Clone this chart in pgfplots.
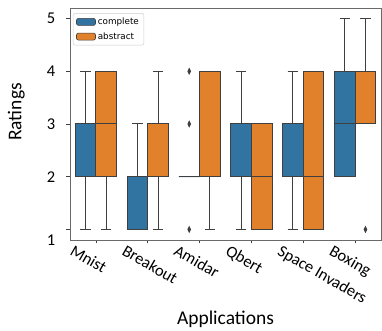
\documentclass[border=0pt]{standalone}
\usepackage{fontspec}
\setmainfont{Carlito}
\newfontfamily\dejavu{DejaVu Sans}
\usepackage{pgfplots}
\usepgfplotslibrary{statistics}
\pgfplotsset{compat=1.18}
\definecolor{cblue}{HTML}{3274A1}
\definecolor{corange}{HTML}{E1812C}
\definecolor{cedge}{HTML}{3F3F3F}
\definecolor{cspine}{HTML}{6A6A6A}
\pgfplotsset{
  sbox/.style={draw=cedge, line width=1pt, solid, mark=diamond*,
    mark size=2.6pt, mark options={fill=cedge, draw=cedge, xscale=0.65, solid}},
}
\begin{document}
\begin{tikzpicture}
\begin{axis}[
  scale only axis, width=311pt, height=232pt,
  xmin=-0.5, xmax=5.5, ymin=0.8, ymax=5.2,
  xtick={0,1,2,3,4,5},
  xticklabels={Mnist,Breakout,Amidar,Qbert,Space Invaders,Boxing},
  ytick={1,2,3,4,5},
  yticklabels={\raisebox{-11pt}[\height][\depth]{1},2,3,4,5},
  tick align=outside, tick pos=left, major tick length=3.5pt,
  every tick/.style={cedge, line width=0.8pt},
  axis line style={cspine, line width=0.8pt},
  ticklabel style={font=\fontsize{16.5}{18}\selectfont},
  x tick label style={rotate=-30, anchor=north west, inner sep=0pt, xshift=-18pt, yshift=-11pt},
  y tick label style={anchor=east, inner sep=0pt, xshift=-11pt},
  xlabel={Applications}, ylabel={Ratings},
  label style={font=\fontsize{19.5}{22}\selectfont, inner sep=0pt},
  xlabel style={at={(axis description cs:0.5,0)}, anchor=north, yshift=-71pt},
  ylabel style={at={(axis description cs:-0.1447,0.552)}, anchor=south},
  legend style={at={(axis description cs:0.0096,0.978)}, anchor=north west,
    draw=black!20, rounded corners=2pt, fill=white,
    font=\dejavu\fontsize{8.8}{10}\selectfont, row sep=2.5pt,
    inner xsep=3pt, inner ysep=2.5pt},
  legend cell align=left,
  legend image code/.code={\draw[#1, draw=cedge, line width=0.6pt] (0pt,-3.5pt) rectangle (19pt,3.5pt);},
  boxplot/draw direction=y,
  boxplot/box extend=0.4,
  boxplot/whisker extend=0.2,
]
\addlegendimage{fill=cblue}
\addlegendentry{complete}
\addlegendimage{fill=corange}
\addlegendentry{abstract}

% Mnist
\addplot[sbox, fill=cblue, boxplot prepared={draw position=-0.2, lower whisker=1, lower quartile=2, median=3, upper quartile=3, upper whisker=4}] coordinates {};
\addplot[sbox, fill=corange, boxplot prepared={draw position=0.2, lower whisker=1, lower quartile=2, median=3, upper quartile=4, upper whisker=4}] coordinates {};
% Breakout
\addplot[sbox, fill=cblue, boxplot prepared={draw position=0.8, lower whisker=1, lower quartile=1, median=2, upper quartile=2, upper whisker=3}] coordinates {};
\addplot[sbox, fill=corange, boxplot prepared={draw position=1.2, lower whisker=1, lower quartile=2, median=3, upper quartile=3, upper whisker=4}] coordinates {};
% Amidar
\addplot[sbox, fill=cblue, boxplot prepared={draw position=1.8, lower whisker=2, lower quartile=2, median=2, upper quartile=2, upper whisker=2}] table[row sep=\\, y index=0] {y\\ 1\\ 3\\ 4\\};
\addplot[sbox, fill=corange, boxplot prepared={draw position=2.2, lower whisker=1, lower quartile=2, median=4, upper quartile=4, upper whisker=4}] coordinates {};
% Qbert
\addplot[sbox, fill=cblue, boxplot prepared={draw position=2.8, lower whisker=1, lower quartile=2, median=3, upper quartile=3, upper whisker=4}] coordinates {};
\addplot[sbox, fill=corange, boxplot prepared={draw position=3.2, lower whisker=1, lower quartile=1, median=2, upper quartile=3, upper whisker=3}] coordinates {};
% Space Invaders
\addplot[sbox, fill=cblue, boxplot prepared={draw position=3.8, lower whisker=1, lower quartile=2, median=3, upper quartile=3, upper whisker=4}] coordinates {};
\addplot[sbox, fill=corange, boxplot prepared={draw position=4.2, lower whisker=1, lower quartile=1, median=2, upper quartile=4, upper whisker=4}] coordinates {};
% Boxing
\addplot[sbox, fill=cblue, boxplot prepared={draw position=4.8, lower whisker=2, lower quartile=2, median=3, upper quartile=4, upper whisker=5}] coordinates {};
\addplot[sbox, fill=corange, boxplot prepared={draw position=5.2, lower whisker=3, lower quartile=3, median=4, upper quartile=4, upper whisker=5}] table[row sep=\\, y index=0] {y\\ 1\\};
\end{axis}
\pgfresetboundingbox
\path[use as bounding box] ([shift={(-70pt,-91pt)}]current axis.south west) rectangle ([shift={(1pt,8pt)}]current axis.north east);
\end{tikzpicture}
\end{document}
